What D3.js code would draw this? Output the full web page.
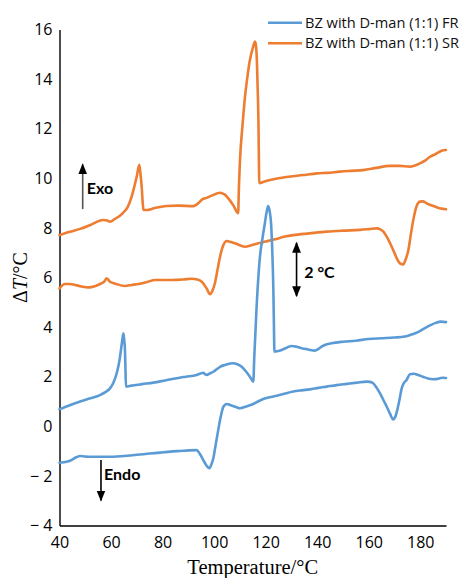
<!DOCTYPE html>
<html>
<head>
<meta charset="utf-8">
<script src="https://cdn.jsdelivr.net/npm/d3@7/dist/d3.min.js"></script>
<style>
  html, body { margin: 0; padding: 0; background: #fff; }
  svg { display: block; }
  .tick text { font-family: "Open Sans", Lato, sans-serif; }
</style>
</head>
<body>
<svg id="chart" width="467" height="578"></svg>
<script>
// DSC traces (temperature °C, ΔT °C)
const srUpper = [[40,7.71],[44,7.84],[48,7.96],[52,8.12],[56.9,8.32],[58.5,8.30],[59.6,8.25],[61.5,8.36],[64.6,8.60],[66.5,8.85],[68.0,9.26],[69.0,9.65],[69.96,10.06],[70.97,10.54],[71.5,10.1],[71.9,9.66],[72.3,9.0],[72.6,8.72],[73.8,8.72],[77,8.80],[81.6,8.88],[86,8.90],[91.9,8.88],[94.5,9.06],[95.5,9.16],[96.5,9.19],[99,9.30],[102.3,9.42],[104,9.35],[107.4,8.92],[109.4,8.59],[109.5,9.12],[110.0,10.62],[111,12.1],[112.0,13.29],[113,14.15],[113.9,14.77],[115,15.25],[115.9,15.51],[116.3,15.3],[116.6,14.77],[117.0,13.3],[117.2,12.35],[117.4,10.6],[117.5,9.80],[119,9.85],[121.7,9.93],[125,10.00],[128,10.05],[134.5,10.13],[140,10.20],[144,10.22],[148.8,10.27],[153,10.30],[157.9,10.33],[163,10.42],[168.2,10.50],[172,10.50],[176.0,10.47],[178,10.52],[179.9,10.60],[182,10.72],[183.8,10.87],[186,10.98],[188.3,11.11],[190,11.14]];

const srLower = [[40,5.56],[42.1,5.74],[44,5.74],[46,5.70],[48.5,5.64],[51.2,5.60],[54,5.66],[56.4,5.77],[57.5,5.85],[58.3,5.97],[59.0,5.90],[59.6,5.83],[62,5.74],[65.4,5.66],[68,5.70],[70.6,5.74],[74,5.82],[77.1,5.90],[83.5,5.90],[88,5.92],[91.3,5.95],[93.5,5.92],[95.2,5.83],[97.1,5.56],[98.4,5.33],[99.3,5.45],[100.3,5.77],[101.3,6.3],[102.3,6.84],[103.6,7.31],[104.9,7.47],[106.5,7.43],[108.1,7.38],[112.0,7.24],[114.5,7.30],[117.1,7.38],[120,7.45],[123.6,7.54],[127.5,7.65],[130.7,7.71],[137,7.78],[143.7,7.85],[150,7.89],[156.6,7.92],[160,7.95],[163.1,7.98],[164.5,7.94],[165.7,7.85],[167.5,7.55],[169.5,7.11],[171,6.75],[172.1,6.57],[173.4,6.53],[174.4,6.75],[175.4,7.11],[176.3,7.7],[177.3,8.32],[178.5,8.85],[179.9,9.06],[181,9.07],[182.5,8.99],[184.5,8.90],[186.4,8.83],[188,8.78],[190,8.75]];

const frUpper = [[40,0.69],[44,0.85],[48,1.0],[52,1.13],[55.7,1.26],[57.8,1.38],[59.6,1.53],[61,1.78],[62.2,2.14],[63,2.5],[63.5,2.81],[64.2,3.35],[64.8,3.75],[65.1,3.5],[65.4,3.08],[65.6,2.3],[65.8,1.60],[67.4,1.63],[72,1.70],[76.4,1.76],[81,1.85],[85.5,1.94],[89,2.00],[93.2,2.07],[94.5,2.12],[95.8,2.16],[96.5,2.10],[97.1,2.07],[98.5,2.14],[99.7,2.20],[101,2.30],[102.3,2.40],[104.5,2.48],[107.4,2.54],[109,2.50],[110.7,2.40],[112.3,2.22],[113.9,2.00],[115.2,1.80],[115.6,2.81],[116.5,4.82],[117.8,6.84],[118.8,7.6],[119.7,8.19],[120.4,8.65],[121.0,8.88],[121.6,8.65],[122.1,8.19],[122.6,7.0],[123.0,5.50],[123.2,4.2],[123.4,3.01],[124.5,3.03],[126.2,3.08],[128,3.16],[130.1,3.24],[132,3.21],[134.0,3.15],[136.5,3.10],[139.1,3.05],[140.5,3.12],[141.7,3.21],[143.5,3.30],[145.6,3.35],[150.1,3.41],[155,3.45],[160,3.52],[165,3.55],[170,3.58],[174,3.62],[176,3.68],[178,3.75],[180,3.85],[182,3.97],[184,4.08],[186,4.17],[188,4.22],[190,4.20]];

const frLower = [[40,-1.47],[42.8,-1.43],[44.7,-1.36],[46.5,-1.25],[48,-1.20],[50,-1.22],[51.8,-1.23],[55.7,-1.23],[60.9,-1.23],[65,-1.20],[70,-1.15],[75,-1.10],[79.0,-1.06],[82,-1.03],[85.5,-1.00],[89,-0.98],[93.2,-0.96],[94.5,-1.12],[95.5,-1.30],[96.5,-1.49],[97.3,-1.62],[98.1,-1.69],[98.9,-1.55],[99.7,-1.29],[100.6,-0.75],[101.6,-0.15],[102.6,0.40],[103.6,0.79],[104.9,0.90],[106.5,0.85],[108.5,0.78],[110.0,0.73],[112.5,0.80],[115.2,0.90],[117,1.00],[119.1,1.10],[121.5,1.17],[124.3,1.23],[127.5,1.32],[130.7,1.40],[134,1.45],[137.2,1.49],[140.5,1.55],[143.7,1.60],[147.5,1.66],[151.5,1.71],[155.5,1.76],[159.2,1.80],[160.5,1.79],[161.8,1.73],[163.1,1.55],[164.4,1.33],[165.7,1.06],[167.0,0.79],[168.3,0.50],[169.5,0.28],[170.3,0.38],[171.1,0.66],[172.0,1.1],[172.8,1.53],[173.7,1.75],[174.7,1.87],[176,2.10],[177.5,2.12],[179,2.08],[181,2.00],[183,1.93],[185,1.90],[187,1.92],[188.5,1.96],[190,1.95]];

const xTicks = [40, 60, 80, 100, 120, 140, 160, 180];
const yTicks = [-4, -2, 0, 2, 4, 6, 8, 10, 12, 14, 16];
const legendLabels = ["BZ with D-man (1:1) FR", "BZ with D-man (1:1) SR"];
const colors = { FR: "#5B9BD5", SR: "#ED7D31" };

const svg = d3.select("#chart");

const x = d3.scaleLinear().domain([40, 190]).range([59.5, 446]);
const y = d3.scaleLinear().domain([-4, 16]).range([525.5, 29.5]);

// Axes: plain lines with labels, no tick marks
const xAxis = d3.axisBottom(x).tickValues(xTicks).tickSize(0).tickSizeOuter(0).tickPadding(11);
const yAxis = d3.axisLeft(y).tickValues(yTicks).tickSize(0).tickSizeOuter(0).tickPadding(7)
  .tickFormat(d => d < 0 ? "\u2212 " + Math.abs(d) : String(d));

const gx = svg.append("g").attr("transform", `translate(0,${y(-4)})`).call(xAxis);
const gy = svg.append("g").attr("transform", `translate(${x(40)},0)`).call(yAxis);
[gx, gy].forEach(g => {
  g.select(".domain").attr("stroke", "#000").attr("stroke-width", 1.4);
  g.selectAll(".tick text").attr("fill", "#000").attr("font-size", 16);
});

// Axis titles
svg.append("text")
  .attr("x", (x(40) + x(190)) / 2).attr("y", 574)
  .attr("text-anchor", "middle")
  .attr("font-family", "'Liberation Serif', 'Times New Roman', serif")
  .attr("font-size", 20.5)
  .text("Temperature/°C");

const yTitle = svg.append("text")
  .attr("transform", `translate(27,${(y(-4) + y(16)) / 2}) rotate(-90)`)
  .attr("text-anchor", "middle")
  .attr("font-family", "'Liberation Serif', 'Times New Roman', serif")
  .attr("font-size", 20);
yTitle.append("tspan").text("\u0394");
yTitle.append("tspan").attr("font-style", "italic").text("T");
yTitle.append("tspan").text("/°C");

// Traces
const line = d3.line().x(d => x(d[0])).y(d => y(d[1])).curve(d3.curveMonotoneX);
const traces = [
  { data: srUpper, color: colors.SR },
  { data: srLower, color: colors.SR },
  { data: frUpper, color: colors.FR },
  { data: frLower, color: colors.FR }
];
svg.append("g").selectAll("path").data(traces).join("path")
  .attr("d", d => line(d.data))
  .attr("fill", "none")
  .attr("stroke", d => d.color)
  .attr("stroke-width", 2.6)
  .attr("stroke-linejoin", "round")
  .attr("stroke-linecap", "round");

// Legend
const legend = svg.append("g");
legendLabels.forEach((label, i) => {
  const ly = 22.7 + i * 20.6;
  legend.append("line")
    .attr("x1", 268).attr("x2", 302).attr("y1", ly).attr("y2", ly)
    .attr("stroke", i === 0 ? colors.FR : colors.SR).attr("stroke-width", 2.6);
  legend.append("text")
    .attr("x", 305).attr("y", ly + 5)
    .attr("font-family", "'Open Sans', Lato, sans-serif")
    .attr("font-size", 14.6)
    .attr("fill", "#111")
    .text(label);
});

// Annotation arrows
const defs = svg.append("defs");
defs.append("marker")
  .attr("id", "head").attr("viewBox", "0 0 10 10")
  .attr("refX", 9).attr("refY", 5)
  .attr("markerWidth", 11).attr("markerHeight", 11)
  .attr("markerUnits", "userSpaceOnUse")
  .attr("orient", "auto-start-reverse")
  .append("path").attr("d", "M0,1 L10,5 L0,9 Z").attr("fill", "#000");

function arrow(xv, yFrom, yTo, color, both) {
  const p = svg.append("line")
    .attr("x1", x(xv)).attr("x2", x(xv))
    .attr("y1", y(yFrom)).attr("y2", y(yTo))
    .attr("stroke", color).attr("stroke-width", 1.6)
    .attr("marker-end", "url(#head)");
  if (both) p.attr("marker-start", "url(#head)");
}
function note(xv, yv, txt) {
  svg.append("text")
    .attr("x", x(xv)).attr("y", y(yv))
    .attr("font-family", "Lato, 'Open Sans', sans-serif")
    .attr("font-weight", "bold")
    .attr("font-size", 16)
    .attr("fill", "#000")
    .text(txt);
}

arrow(49.0, 8.76, 10.56, "#555", false);
note(50.6, 9.35, "Exo");

arrow(56.1, -1.36, -2.99, "#000", false);
note(57.3, -2.15, "Endo");

arrow(132.0, 5.25, 7.40, "#000", true);
note(135.0, 6.0, "2 °C");
</script>
</body>
</html>
